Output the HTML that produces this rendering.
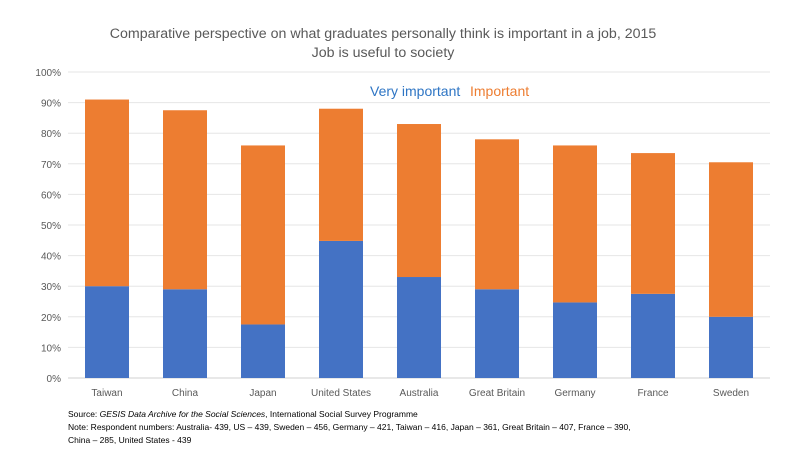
<!DOCTYPE html>
<html><head><meta charset="utf-8">
<style>
html,body{margin:0;padding:0;background:#fff;}
body{width:800px;height:450px;overflow:hidden;font-family:"Liberation Sans",Calibri,sans-serif;}
</style></head>
<body>
<svg id="chart" width="800" height="450" xmlns="http://www.w3.org/2000/svg" font-family="Liberation Sans, sans-serif">
  <text x="383" y="38" text-anchor="middle" font-size="14.2" fill="#595959">Comparative perspective on what graduates personally think is important in a job, 2015</text>
  <text x="383" y="57" text-anchor="middle" font-size="14.2" fill="#595959">Job is useful to society</text>
  <g id="grid"></g>
  <g id="bars"></g>
  <g id="xlabels"></g>
  <g id="ylabels"></g>
  <text x="370" y="96" font-size="14" fill="#2E75C4">Very important</text>
  <text x="470" y="96" font-size="14" fill="#ED7D31">Important</text>
  <text x="68" y="417" font-size="8.5" fill="#000">Source: <tspan font-style="italic">GESIS Data Archive for the Social Sciences</tspan>, International Social Survey Programme</text>
  <text x="68" y="430" font-size="8.5" fill="#000">Note: Respondent numbers: Australia- 439, US – 439, Sweden – 456, Germany – 421, Taiwan – 416, Japan – 361, Great Britain – 407, France – 390,</text>
  <text x="68" y="443" font-size="8.5" fill="#000">China – 285, United States - 439</text>
</svg>
<script>
const categories = ["Taiwan","China","Japan","United States","Australia","Great Britain","Germany","France","Sweden"];
const veryImportant = [30, 29, 17.5, 44.8, 33, 29, 24.7, 27.5, 20];
const important = [61, 58.5, 58.5, 43.2, 50, 49, 51.3, 46, 50.5];
const yTicks = [0,10,20,30,40,50,60,70,80,90,100];

const NS = "http://www.w3.org/2000/svg";
const left = 68, right = 770, y0 = 378, y100 = 72;
const band = (right - left) / categories.length;
const barW = 44;
function yScale(v){ return y0 - (y0 - y100) * v / 100; }
function xCenter(i){ return left + band * (i + 0.5); }
function mk(tag, attrs, parent){ const e = document.createElementNS(NS, tag); for (const k in attrs) e.setAttribute(k, attrs[k]); parent.appendChild(e); return e; }

const grid = document.getElementById("grid");
const yl = document.getElementById("ylabels");
yTicks.forEach(t => {
  const y = yScale(t);
  const ln = mk("line", {x1: left, x2: right, y1: y, y2: y, stroke: t === 0 ? "#d0d0d0" : "#e6e6e6", "stroke-width": 1}, grid);
  
  
  const tx = mk("text", {x: 61, y: y + 4, "text-anchor": "end", "font-size": 10, fill: "#595959"}, yl);
  tx.textContent = t + "%";
  
  
});

const bars = document.getElementById("bars");
const xl = document.getElementById("xlabels");
categories.forEach((c, i) => {
  const cx = xCenter(i);
  const b1 = mk("rect", {x: cx - barW/2, y: yScale(veryImportant[i]), width: barW, height: y0 - yScale(veryImportant[i]), fill: "#4472C4"}, bars);
  
  
  const top = veryImportant[i] + important[i];
  const b2 = mk("rect", {x: cx - barW/2, y: yScale(top), width: barW, height: yScale(veryImportant[i]) - yScale(top), fill: "#ED7D31"}, bars);
  
  
  const tx = mk("text", {x: cx, y: 396, "text-anchor": "middle", "font-size": 10, fill: "#595959"}, xl);
  tx.textContent = c;
  
  
});
</script>
</body></html>
